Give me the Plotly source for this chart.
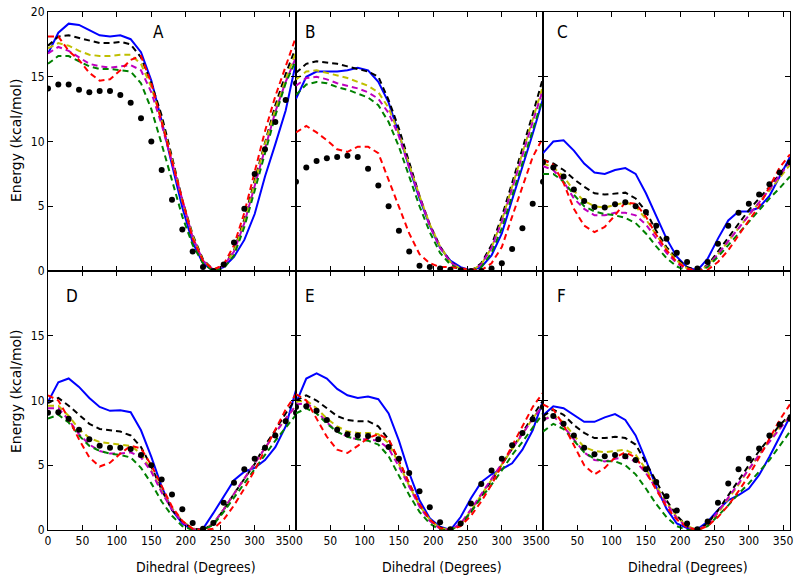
from plotly import graph_objects as go
from plotly.subplots import make_subplots

W, H = 800, 583
FONT = "Liberation Sans Narrow, DejaVu Sans Condensed, Liberation Sans, sans-serif"
CONFIG = {"displayModeBar": False}

DIHEDRAL = list(range(0, 361, 15))
X_TICKS = [0, 50, 100, 150, 200, 250, 300, 350]
X_TICK_LABELS = ["0", "50", "100", "150", "200", "250", "300", "350"]
NBSP = "\u00a0\u00a0"

# Panel A
A_BLUE = [16.8, 18.4, 19.1, 19.0, 18.6, 18.2, 18.1, 18.2, 17.9, 16.9, 14.7, 11.6, 8.2, 4.9, 2.2, 0.6, 0.0, 0.3, 1.1, 2.4, 4.4, 7.3, 9.8, 12.4, 16.1]
A_BLACK = [17.4, 18.1, 18.2, 18.0, 17.8, 17.6, 17.6, 17.7, 17.5, 16.5, 14.5, 12.0, 8.8, 5.5, 2.8, 0.9, 0.1, 0.4, 1.6, 4.0, 7.0, 10.0, 12.8, 15.2, 17.3]
A_YELLOW = [17.2, 17.6, 17.4, 17.0, 16.7, 16.6, 16.6, 16.7, 16.7, 16.0, 14.2, 11.6, 8.6, 5.4, 2.7, 0.8, 0.1, 0.4, 1.5, 3.8, 6.8, 9.8, 12.5, 14.8, 16.9]
A_MAGENTA = [16.8, 17.3, 17.0, 16.5, 16.0, 15.8, 15.7, 15.8, 15.9, 15.5, 13.8, 11.3, 8.4, 5.3, 2.6, 0.8, 0.1, 0.4, 1.5, 3.7, 6.6, 9.6, 12.3, 14.6, 16.5]
A_GREEN = [16.0, 16.6, 16.6, 16.2, 15.8, 15.6, 15.6, 15.5, 15.4, 14.5, 12.5, 9.8, 7.0, 4.2, 2.0, 0.6, 0.0, 0.2, 1.2, 3.4, 6.2, 9.2, 12.0, 14.5, 16.3]
A_RED = [18.1, 18.1, 17.0, 16.3, 15.3, 14.7, 14.8, 15.5, 16.3, 16.6, 14.5, 11.5, 8.5, 5.3, 2.5, 0.8, 0.1, 0.5, 2.0, 4.5, 7.7, 10.8, 13.5, 15.8, 18.1]
A_DOTS = [14.1, 14.4, 14.4, 14.0, 13.8, 13.9, 13.9, 13.6, 13.0, 11.8, 10.0, 7.8, 5.5, 3.2, 1.5, 0.3, 0.0, 0.5, 2.2, 4.8, 7.5, 9.4, 11.5, 13.2, 14.5]

# Panel B
B_BLUE = [13.3, 15.0, 15.4, 15.4, 15.4, 15.5, 15.7, 15.5, 14.6, 13.0, 10.6, 8.0, 5.6, 3.5, 1.8, 0.8, 0.3, 0.05, 0.3, 1.2, 2.9, 5.5, 8.0, 10.6, 13.3]
B_BLACK = [15.3, 16.0, 16.2, 16.1, 16.0, 15.8, 15.6, 15.4, 15.0, 13.2, 11.0, 8.4, 5.8, 3.6, 1.9, 0.7, 0.15, 0.0, 0.6, 2.0, 4.2, 6.8, 9.4, 12.1, 14.9]
B_YELLOW = [14.8, 15.4, 15.5, 15.3, 15.1, 14.9, 14.6, 14.3, 13.8, 12.6, 10.6, 8.2, 5.8, 3.6, 1.9, 0.7, 0.15, 0.0, 0.5, 1.8, 3.9, 6.5, 9.2, 11.7, 14.3]
B_MAGENTA = [14.3, 14.9, 15.0, 14.8, 14.5, 14.3, 14.1, 13.8, 13.3, 12.2, 10.4, 8.0, 5.7, 3.5, 1.8, 0.7, 0.1, 0.0, 0.5, 1.8, 3.8, 6.4, 9.0, 11.5, 14.0]
B_GREEN = [13.6, 14.4, 14.6, 14.5, 14.2, 14.0, 13.7, 13.4, 12.8, 11.5, 9.6, 7.3, 5.0, 3.0, 1.4, 0.5, 0.05, 0.0, 0.3, 1.4, 3.3, 5.8, 8.4, 10.9, 13.4]
B_RED = [10.7, 11.2, 10.7, 10.1, 9.4, 9.2, 9.6, 9.6, 9.1, 7.0, 4.9, 2.9, 1.3, 0.6, 0.3, 0.3, 0.2, 0.1, 0.05, 0.6, 1.85, 4.2, 6.5, 8.8, 10.3]
B_DOTS = [6.9, 8.0, 8.5, 8.7, 8.8, 8.9, 8.8, 7.9, 6.6, 5.0, 3.1, 1.5, 0.4, 0.3, 0.2, 0.1, 0.05, 0.0, 0.0, 0.2, 0.6, 1.7, 3.3, 5.2, 6.9]

# Panel C
C_BLUE = [9.1, 10.0, 10.1, 9.3, 8.3, 7.6, 7.5, 7.8, 7.95, 7.5, 6.0, 4.2, 2.5, 1.1, 0.3, 0.05, 0.95, 2.5, 3.9, 4.6, 4.6, 4.9, 5.8, 7.3, 8.8]
C_BLACK = [8.6, 8.3, 7.8, 7.1, 6.5, 6.0, 5.9, 6.0, 6.05, 5.6, 4.6, 3.1, 1.85, 0.95, 0.3, 0.05, 0.45, 1.5, 2.6, 3.65, 4.7, 5.6, 6.5, 7.5, 8.5]
C_YELLOW = [8.3, 8.0, 7.3, 6.2, 5.4, 5.0, 4.9, 5.1, 5.3, 5.0, 4.0, 2.8, 1.7, 0.8, 0.2, 0.0, 0.4, 1.3, 2.3, 3.3, 4.3, 5.3, 6.2, 7.2, 8.2]
C_MAGENTA = [8.1, 7.8, 6.9, 5.6, 4.8, 4.3, 4.3, 4.5, 4.5, 4.3, 3.6, 2.5, 1.4, 0.6, 0.1, 0.0, 0.4, 1.3, 2.3, 3.3, 4.3, 5.3, 6.3, 7.4, 8.4]
C_GREEN = [7.5, 7.5, 6.9, 5.9, 5.0, 4.6, 4.4, 4.3, 4.1, 3.7, 2.9, 1.9, 1.0, 0.35, 0.0, 0.0, 0.3, 1.1, 2.0, 2.9, 3.8, 4.7, 5.6, 6.4, 7.3]
C_RED = [8.6, 8.2, 6.8, 4.8, 3.5, 3.0, 3.4, 4.3, 5.3, 5.2, 4.2, 2.8, 1.6, 0.7, 0.2, 0.0, 0.1, 0.7, 1.6, 2.8, 3.9, 5.0, 6.5, 8.0, 9.0]
C_DOTS = [8.4, 8.0, 7.3, 6.3, 5.4, 4.95, 4.9, 5.15, 5.3, 5.0, 4.55, 3.5, 2.5, 1.4, 0.7, 0.2, 0.7, 2.1, 3.5, 4.5, 5.2, 5.9, 6.7, 7.6, 8.4]

# Panel D
D_BLUE = [9.9, 11.4, 11.7, 11.05, 10.2, 9.5, 9.2, 9.25, 9.1, 7.7, 5.65, 3.35, 1.55, 0.5, 0.0, 0.1, 1.3, 2.6, 3.85, 4.5, 4.8, 5.4, 6.4, 8.0, 10.8]
D_BLACK = [9.8, 10.2, 9.6, 8.9, 8.2, 7.8, 7.7, 7.6, 7.3, 6.4, 4.9, 3.1, 1.55, 0.65, 0.1, 0.0, 0.5, 1.55, 2.8, 4.0, 5.1, 6.55, 7.7, 9.0, 10.15]
D_YELLOW = [9.6, 9.6, 8.8, 7.8, 7.1, 6.8, 6.7, 6.6, 6.5, 5.9, 4.6, 3.0, 1.7, 0.7, 0.1, 0.0, 0.5, 1.6, 2.8, 4.0, 5.2, 6.4, 7.5, 8.6, 9.6]
D_MAGENTA = [9.4, 9.4, 8.5, 7.4, 6.6, 6.1, 5.9, 5.9, 6.0, 5.6, 4.5, 2.9, 1.6, 0.6, 0.05, 0.0, 0.5, 1.6, 2.8, 4.0, 5.2, 6.4, 7.5, 8.6, 9.6]
D_GREEN = [8.6, 8.9, 8.3, 7.3, 6.5, 6.1, 5.9, 5.8, 5.6, 4.8, 3.6, 2.2, 1.1, 0.3, 0.0, 0.0, 0.4, 1.4, 2.5, 3.6, 4.7, 5.8, 6.9, 7.9, 8.9]
D_RED = [10.4, 10.0, 8.6, 7.0, 5.6, 4.9, 5.2, 5.9, 6.5, 6.3, 5.0, 3.4, 1.8, 0.7, 0.1, 0.0, 0.1, 0.8, 1.9, 3.2, 4.6, 6.2, 7.8, 9.3, 10.5]
D_DOTS = [9.05, 9.1, 8.6, 7.75, 7.0, 6.5, 6.35, 6.35, 6.25, 5.8, 5.0, 3.9, 2.75, 1.6, 0.55, 0.1, 0.55, 2.1, 3.65, 4.7, 5.5, 6.35, 7.3, 8.4, 9.05]

# Panel E
E_BLUE = [9.8, 11.7, 12.1, 11.7, 10.9, 10.4, 10.2, 10.3, 10.1, 9.0, 6.9, 4.4, 2.3, 0.9, 0.25, 0.0, 1.0, 2.45, 3.7, 4.3, 4.7, 5.15, 6.2, 7.7, 10.0]
E_BLACK = [10.0, 10.4, 10.0, 9.4, 8.8, 8.5, 8.4, 8.4, 8.0, 7.0, 5.3, 3.5, 1.9, 0.8, 0.2, 0.0, 0.4, 1.4, 2.6, 3.8, 5.0, 6.2, 7.5, 8.8, 10.0]
E_YELLOW = [9.9, 10.0, 9.4, 8.6, 8.0, 7.6, 7.5, 7.5, 7.4, 6.7, 5.1, 3.4, 1.9, 0.8, 0.15, 0.0, 0.4, 1.5, 2.7, 3.9, 5.1, 6.3, 7.5, 8.6, 9.7]
E_MAGENTA = [9.7, 9.8, 9.2, 8.3, 7.6, 7.2, 7.0, 7.0, 6.9, 6.3, 4.9, 3.3, 1.8, 0.7, 0.1, 0.0, 0.5, 1.6, 2.8, 3.9, 5.1, 6.3, 7.4, 8.6, 9.6]
E_GREEN = [9.0, 9.4, 9.0, 8.2, 7.6, 7.2, 7.0, 6.9, 6.6, 5.7, 4.2, 2.7, 1.4, 0.5, 0.0, 0.0, 0.4, 1.4, 2.5, 3.5, 4.6, 5.8, 6.8, 7.9, 9.0]
E_RED = [10.5, 10.0, 8.6, 7.2, 6.2, 5.95, 6.5, 7.1, 7.4, 7.0, 5.4, 3.6, 2.0, 0.8, 0.15, 0.0, 0.3, 1.1, 2.2, 3.5, 5.0, 6.5, 8.0, 9.5, 10.6]
E_DOTS = [9.5, 9.55, 9.2, 8.5, 7.75, 7.4, 7.3, 7.25, 7.0, 6.4, 5.5, 4.4, 3.0, 1.75, 0.6, 0.05, 0.5, 2.05, 3.55, 4.6, 5.5, 6.55, 7.5, 8.55, 9.5]

# Panel F
F_BLUE = [8.85, 9.55, 9.4, 8.85, 8.35, 8.35, 8.7, 8.95, 8.5, 7.3, 5.4, 3.35, 1.65, 0.5, 0.15, 0.05, 0.65, 1.55, 2.3, 2.7, 3.2, 4.25, 5.65, 7.2, 8.75]
F_BLACK = [8.8, 9.3, 8.9, 8.1, 7.5, 7.1, 7.1, 7.2, 7.1, 6.6, 5.2, 3.7, 2.3, 1.1, 0.3, 0.0, 0.5, 1.5, 2.7, 3.9, 5.0, 6.1, 7.1, 8.1, 8.9]
F_YELLOW = [8.5, 8.9, 8.3, 7.3, 6.4, 6.1, 6.0, 6.1, 6.2, 5.8, 4.7, 3.4, 2.1, 1.0, 0.3, 0.0, 0.4, 1.3, 2.4, 3.5, 4.7, 5.8, 6.9, 7.9, 8.8]
F_MAGENTA = [8.5, 8.8, 8.0, 7.0, 6.0, 5.4, 5.3, 5.5, 5.6, 5.3, 4.4, 3.2, 2.0, 0.9, 0.2, 0.0, 0.4, 1.4, 2.5, 3.6, 4.7, 5.8, 6.8, 7.8, 8.8]
F_GREEN = [7.6, 8.2, 7.8, 6.9, 6.0, 5.5, 5.3, 5.3, 5.0, 4.3, 3.2, 2.0, 1.0, 0.3, 0.0, 0.0, 0.3, 1.1, 1.9, 2.8, 3.6, 4.5, 5.4, 6.5, 7.6]
F_RED = [9.7, 9.3, 8.1, 6.5, 5.0, 4.3, 4.8, 5.6, 6.0, 5.6, 4.5, 3.1, 1.8, 0.8, 0.2, 0.0, 0.3, 1.0, 1.9, 3.0, 4.2, 5.6, 7.0, 8.5, 9.7]
F_DOTS = [8.6, 8.8, 8.2, 7.3, 6.35, 5.85, 5.7, 5.8, 5.7, 5.4, 4.7, 3.7, 2.6, 1.5, 0.5, 0.05, 0.65, 2.1, 3.6, 4.7, 5.5, 6.3, 7.3, 8.15, 8.6]

PANELS = [
    ("A", A_BLUE, A_BLACK, A_YELLOW, A_MAGENTA, A_GREEN, A_RED, A_DOTS),
    ("B", B_BLUE, B_BLACK, B_YELLOW, B_MAGENTA, B_GREEN, B_RED, B_DOTS),
    ("C", C_BLUE, C_BLACK, C_YELLOW, C_MAGENTA, C_GREEN, C_RED, C_DOTS),
    ("D", D_BLUE, D_BLACK, D_YELLOW, D_MAGENTA, D_GREEN, D_RED, D_DOTS),
    ("E", E_BLUE, E_BLACK, E_YELLOW, E_MAGENTA, E_GREEN, E_RED, E_DOTS),
    ("F", F_BLUE, F_BLACK, F_YELLOW, F_MAGENTA, F_GREEN, F_RED, F_DOTS),
]

# matplotlib classic colours; index into the panel tuple
BLUE = "#0000ff"
DASHED = [("#000000", 2), ("#bfbf00", 3), ("#bf00bf", 4), ("#008000", 5), ("#ff0000", 6)]

X_EDGES = [48, 296, 543, 790]
Y_EDGES = [12, 271, 530]
LABEL_POS = [(158, 32), (310, 32), (562, 32), (72, 296), (310, 296), (561, 296)]


def text_at(fig, text, px, py, size, family=FONT, angle=0):
    fig.add_annotation(
        text=text, x=px / W, y=1 - py / H, xref="paper", yref="paper",
        xanchor="center", yanchor="middle", showarrow=False, textangle=angle,
        font=dict(size=size, color="black", family=family),
    )


def x_labels(col):
    # nudge the "350" / "0" pair apart where two panels meet
    labels = list(X_TICK_LABELS)
    if col > 1:
        labels[0] = NBSP + labels[0]
    if col < 3:
        labels[-1] = labels[-1] + NBSP
    return labels


fig = make_subplots(rows=2, cols=3, horizontal_spacing=0, vertical_spacing=0)

for i, panel in enumerate(PANELS):
    row, col = i // 3 + 1, i % 3 + 1
    fig.add_trace(
        go.Scatter(x=DIHEDRAL, y=panel[1], mode="lines",
                   line=dict(color=BLUE, width=2), showlegend=False),
        row=row, col=col,
    )
    for color, idx in DASHED:
        fig.add_trace(
            go.Scatter(x=DIHEDRAL, y=panel[idx], mode="lines",
                       line=dict(color=color, width=2, dash="6px,4px"),
                       showlegend=False),
            row=row, col=col,
        )
    fig.add_trace(
        go.Scatter(x=DIHEDRAL, y=panel[7], mode="markers",
                   marker=dict(color="black", size=6), showlegend=False),
        row=row, col=col,
    )
    lx, ly = LABEL_POS[i]
    text_at(fig, panel[0], lx, ly, 17)

for i in range(6):
    row, col = i // 3 + 1, i % 3 + 1
    x0, x1 = X_EDGES[col - 1] / W, X_EDGES[col] / W
    y1, y0 = 1 - Y_EDGES[row - 1] / H, 1 - Y_EDGES[row] / H
    common = dict(
        ticks="inside", ticklen=5, tickcolor="black", showline=True,
        linecolor="black", linewidth=1, mirror="ticks", showgrid=False,
        zeroline=False, automargin=False,
        tickfont=dict(size=12, color="black", family=FONT),
    )
    fig.update_xaxes(
        domain=[x0, x1], range=[0, 360], tickvals=X_TICKS,
        ticktext=x_labels(col), showticklabels=(row == 2),
        row=row, col=col, **common,
    )
    fig.update_yaxes(
        domain=[y0, y1], range=[0, 20],
        tickvals=[0, 5, 10, 15, 20] if row == 1 else [0, 5, 10, 15],
        showticklabels=(col == 1), row=row, col=col, **common,
    )

for cy in [141, 392]:
    text_at(fig, "Energy (kcal/mol)", 16, cy, 14, family="DejaVu Sans", angle=-90)
for cx in [196, 442, 688]:
    text_at(fig, "Dihedral (Degrees)", cx, 567, 14)

fig.update_layout(
    width=W, height=H,
    margin=dict(l=0, r=0, t=0, b=0, autoexpand=False),
    plot_bgcolor="white", paper_bgcolor="white",
    font=dict(family=FONT),
)

# drop the default page margin so the figure sits at the window's corner
fig.write_html("out.html", config=CONFIG,
               post_script="document.body.style.margin='0';")
